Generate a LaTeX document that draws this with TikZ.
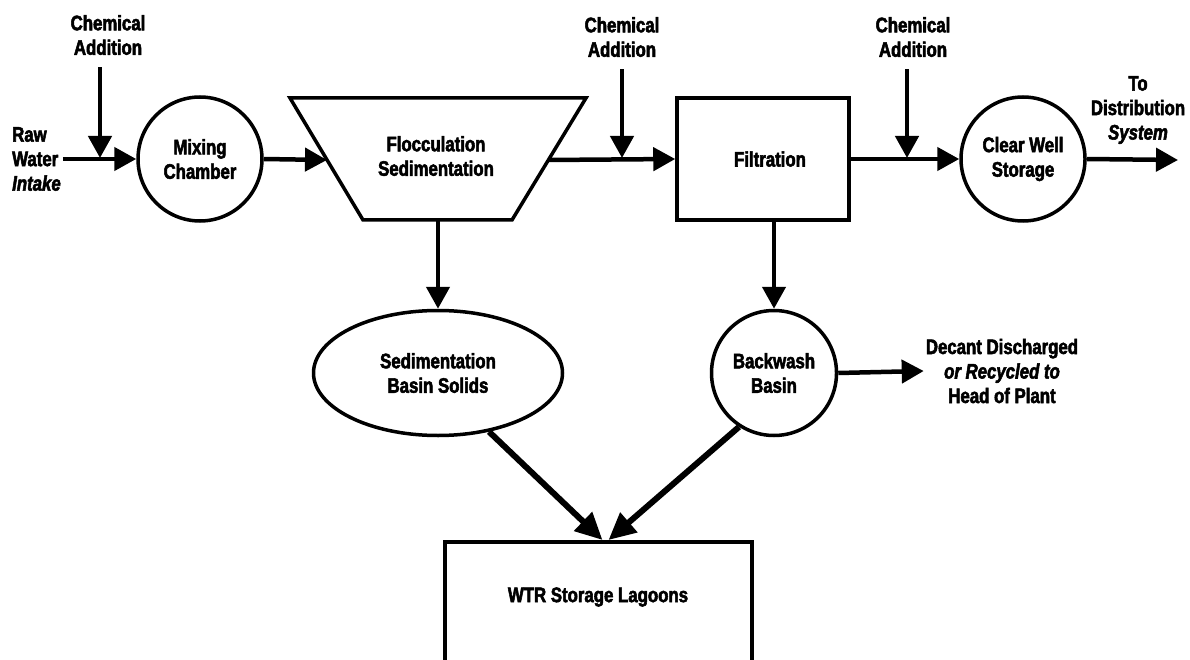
\documentclass[tikz,border=0pt]{standalone}
\usepackage{fontspec}
\setmainfont{Liberation Sans}[FakeStretch=0.8, BoldFeatures={FakeBold=2.5}, BoldItalicFeatures={FakeBold=2.5}]
\usetikzlibrary{arrows.meta,shapes.geometric}
\begin{document}
\begin{tikzpicture}[x=1pt,y=-1pt,
  txt/.style={font=\bfseries\fontsize{21}{24.5}\selectfont, align=center, inner sep=2pt},
  shp/.style={draw, line width=3.5pt},
  circ/.style={shp, circle, minimum size=124pt, inner sep=0pt, txt},
  arr/.style={line width=4.5pt, -{Triangle[width=23pt,length=22pt]}},
  darr/.style={line width=6pt, -{Triangle[width=25pt,length=27pt]}}]
\clip (0,0) rectangle (1190,660);
\fill[white] (0,0) rectangle (1190,660);

% top row
\node[txt, align=left, anchor=west] (raw) at (10,159) {Raw\\Water\\\textit{Intake}};
\node[circ] (mix) at (200,159) {Mixing\\Chamber};
\node[txt] (chem1) at (108,35) {Chemical\\Addition};
\coordinate (j1) at (100,158);

\draw[shp, line join=miter] (290,98) -- (586,98) -- (512,220) -- (363,220) -- cycle;
\node[txt] (floc) at (436,156) {Flocculation\\Sedimentation};
\coordinate (flocL) at (327,160);
\coordinate (flocR) at (548,160);
\coordinate (flocB) at (438,220);

\node[shp, minimum width=172pt, minimum height=122pt, inner sep=0pt] (filt) at (763,159) {};
\node[txt] (filttext) at (770,159) {Filtration};
\node[txt] (chem2) at (622,37) {Chemical\\Addition};
\coordinate (j2) at (622,158);

\node[circ] (clear) at (1023,159) {Clear Well\\Storage};
\node[txt] (chem3) at (913,37) {Chemical\\Addition};
\coordinate (j3) at (907,158);
\node[txt] (dist) at (1138,110) {To\\Distribution\\\textit{System}};
\coordinate (out) at (1178,160);

% middle row
\node[shp, ellipse, minimum width=249pt, minimum height=125pt, inner sep=0pt, txt] (sed) at (438,373) {Sedimentation\\Basin Solids};
\node[circ, minimum size=125pt] (back) at (774,373) {Backwash\\Basin};
\node[txt] (decant) at (1002,371) {Decant Discharged\\\textit{or Recycled to}\\Head of Plant};

% bottom
\node[shp, anchor=north, minimum width=307pt, minimum height=150pt, inner sep=0pt] (wtr) at (598.5,540) {};
\node[txt] (wtrtext) at (598,597) {WTR Storage Lagoons};

% connectors
\draw[arr] (raw.east) -- (mix.west);
\draw[arr] ([yshift=-10pt]chem1.south -| j1) -- (j1);
\draw[arr] (mix.east) -- (flocL);
\draw[arr] (flocR) -- (filt.west);
\draw[arr] ([yshift=-10pt]chem2.south -| j2) -- (j2);
\draw[arr] (filt.east) -- (clear.west);
\draw[arr] ([yshift=-10pt]chem3.south -| j3) -- (j3);
\draw[arr] (clear.east) -- (out);
\draw[arr] (flocB) -- (sed.north);
\draw[arr] (back.north |- filt.south) -- (back.north);
\draw[arr] (back.east) -- (decant.west);
\draw[darr] (sed.-49) -- ([xshift=4pt]wtr.north);
\draw[darr] (back.-123) -- ([xshift=10pt]wtr.north);
\end{tikzpicture}
\end{document}
